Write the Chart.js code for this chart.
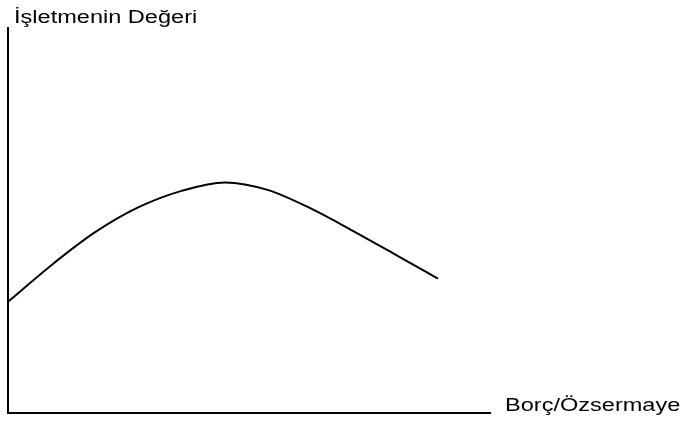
<!DOCTYPE html>
<html>
<head>
<meta charset="utf-8">
<script src="https://cdn.jsdelivr.net/npm/chart.js@4/dist/chart.umd.min.js"></script>
<style>
  html, body { margin: 0; padding: 0; background: #fff; }
  #wrap { width: 683px; height: 425px; }
</style>
</head>
<body>
<div id="wrap"><canvas id="deger"></canvas></div>
<script>
const ctx = document.getElementById('deger').getContext('2d');

// Borç/Özsermaye oranı (yatay) ve işletmenin değeri (dikey), 0-100 ölçeğinde
const borcOrani = [0, 9, 18, 27, 36, 45, 54, 63, 72, 81, 89.2];
const isletmeDegeri = [28.9, 38.4, 46.9, 53.4, 57.7, 59.9, 57.9, 53.0, 47.0, 40.7, 34.9];
const yEksenBasligi = 'İşletmenin Değeri';
const xEksenBasligi = 'Borç/Özsermaye';

const points = borcOrani.map((x, i) => ({ x: x, y: isletmeDegeri[i] }));

// eksen yazıları: kaynak görselde yatayda biraz gerilmiş
const axisLabels = {
    id: 'axisLabels',
    afterDraw(chart) {
        const c = chart.ctx;
        const area = chart.chartArea;
        c.save();
        c.fillStyle = '#000';
        c.font = '18.7px "Liberation Sans", Arial, sans-serif';
        c.textBaseline = 'alphabetic';

        c.save();
        c.translate(area.left + 6, 23);
        c.scale(1.26, 1);
        c.fillText(yEksenBasligi, 0, 0);
        c.restore();

        c.save();
        c.translate(505, 411);
        c.scale(1.26, 1);
        c.fillText(xEksenBasligi, 0, 0);
        c.restore();

        c.restore();
    }
};

new Chart(ctx, {
    type: 'scatter',
    data: {
        datasets: [{
            data: points,
            showLine: true,
            borderColor: '#000000',
            borderWidth: 2,
            pointRadius: 0,
            cubicInterpolationMode: 'monotone',
            clip: false
        }]
    },
    options: {
        responsive: true,
        maintainAspectRatio: false,
        animation: false,
        layout: {
            padding: { left: 8, top: 28, right: 193, bottom: 12 }
        },
        plugins: {
            legend: { display: false },
            tooltip: { enabled: false }
        },
        scales: {
            x: {
                type: 'linear',
                min: 0,
                max: 100,
                grid: { display: false, drawTicks: false },
                ticks: { display: false },
                border: { display: true, color: '#000', width: 2 }
            },
            y: {
                type: 'linear',
                min: 0,
                max: 100,
                grid: { display: false, drawTicks: false },
                ticks: { display: false },
                border: { display: true, color: '#000', width: 2 }
            }
        }
    },
    plugins: [axisLabels]
});
</script>
</body>
</html>
